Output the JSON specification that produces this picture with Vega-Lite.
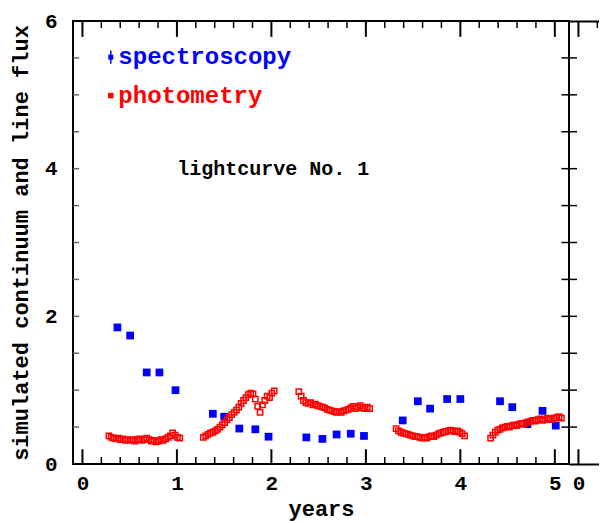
{
  "$schema": "https://vega.github.io/schema/vega-lite/v6.json",
  "padding": {"left": 8, "top": 9, "right": 0, "bottom": 4},
  "spacing": 0,
  "bounds": "flush",
  "config": {
    "view": {"stroke": "black", "strokeWidth": 2},
    "font": "Liberation Mono",
    "axis": {
      "domainColor": "black", "domainWidth": 2, "grid": false,
      "labelFont": "Liberation Mono", "labelFontSize": 21, "labelFontWeight": "bold", "labelColor": "black",
      "labelOverlap": false, "labelFlush": false,
      "titleFont": "Liberation Mono", "titleFontSize": 22, "titleFontWeight": "bold", "titleColor": "black"
    }
  },
  "datasets": {
    "xmaj": [{"v": 0}, {"v": 1}, {"v": 2}, {"v": 3}, {"v": 4}, {"v": 5}],
    "xmin": [{"v": 0.2}, {"v": 0.4}, {"v": 0.6}, {"v": 0.8}, {"v": 1.2}, {"v": 1.4}, {"v": 1.6}, {"v": 1.8},
      {"v": 2.2}, {"v": 2.4}, {"v": 2.6}, {"v": 2.8}, {"v": 3.2}, {"v": 3.4}, {"v": 3.6}, {"v": 3.8},
      {"v": 4.2}, {"v": 4.4}, {"v": 4.6}, {"v": 4.8}],
    "ytk": [{"v": 0.5}, {"v": 1}, {"v": 1.5}, {"v": 2}, {"v": 2.5}, {"v": 3}, {"v": 3.5}, {"v": 4}, {"v": 4.5}, {"v": 5}, {"v": 5.5}],
    "spec": [
      {"x": 0.37, "y": 1.85}, {"x": 0.505, "y": 1.74}, {"x": 0.68, "y": 1.24}, {"x": 0.815, "y": 1.24},
      {"x": 0.985, "y": 1.0}, {"x": 1.38, "y": 0.68}, {"x": 1.5, "y": 0.64}, {"x": 1.66, "y": 0.48},
      {"x": 1.83, "y": 0.47}, {"x": 1.97, "y": 0.37}, {"x": 2.37, "y": 0.36}, {"x": 2.54, "y": 0.34},
      {"x": 2.69, "y": 0.4}, {"x": 2.84, "y": 0.41}, {"x": 2.98, "y": 0.38}, {"x": 3.39, "y": 0.59},
      {"x": 3.55, "y": 0.85}, {"x": 3.68, "y": 0.75}, {"x": 3.86, "y": 0.88}, {"x": 4.0, "y": 0.88},
      {"x": 4.42, "y": 0.85}, {"x": 4.55, "y": 0.77}, {"x": 4.71, "y": 0.54}, {"x": 4.87, "y": 0.72},
      {"x": 5.01, "y": 0.52}
    ],
    "phot": [
      {"x": 0.28, "y": 0.38}, {"x": 0.305, "y": 0.36}, {"x": 0.33, "y": 0.35}, {"x": 0.355, "y": 0.34},
      {"x": 0.38, "y": 0.35}, {"x": 0.405, "y": 0.33}, {"x": 0.43, "y": 0.34}, {"x": 0.455, "y": 0.32},
      {"x": 0.48, "y": 0.33}, {"x": 0.505, "y": 0.32}, {"x": 0.53, "y": 0.33}, {"x": 0.555, "y": 0.31},
      {"x": 0.58, "y": 0.33}, {"x": 0.605, "y": 0.34}, {"x": 0.63, "y": 0.32}, {"x": 0.655, "y": 0.33},
      {"x": 0.68, "y": 0.35}, {"x": 0.705, "y": 0.33}, {"x": 0.73, "y": 0.31}, {"x": 0.755, "y": 0.32},
      {"x": 0.78, "y": 0.3}, {"x": 0.805, "y": 0.31}, {"x": 0.83, "y": 0.33}, {"x": 0.855, "y": 0.32},
      {"x": 0.88, "y": 0.34}, {"x": 0.905, "y": 0.36}, {"x": 0.93, "y": 0.38}, {"x": 0.955, "y": 0.42},
      {"x": 0.98, "y": 0.39}, {"x": 1.005, "y": 0.36}, {"x": 1.03, "y": 0.35},
      {"x": 1.28, "y": 0.36}, {"x": 1.305, "y": 0.38}, {"x": 1.33, "y": 0.4}, {"x": 1.355, "y": 0.42},
      {"x": 1.38, "y": 0.43}, {"x": 1.405, "y": 0.45}, {"x": 1.43, "y": 0.47}, {"x": 1.455, "y": 0.5},
      {"x": 1.48, "y": 0.53}, {"x": 1.505, "y": 0.56}, {"x": 1.53, "y": 0.6}, {"x": 1.555, "y": 0.63},
      {"x": 1.58, "y": 0.67}, {"x": 1.605, "y": 0.7}, {"x": 1.63, "y": 0.73}, {"x": 1.655, "y": 0.77},
      {"x": 1.68, "y": 0.82}, {"x": 1.705, "y": 0.86}, {"x": 1.73, "y": 0.9}, {"x": 1.755, "y": 0.94},
      {"x": 1.78, "y": 0.96}, {"x": 1.805, "y": 0.95}, {"x": 1.83, "y": 0.88}, {"x": 1.855, "y": 0.78},
      {"x": 1.88, "y": 0.7}, {"x": 1.905, "y": 0.8}, {"x": 1.93, "y": 0.86}, {"x": 1.955, "y": 0.92},
      {"x": 1.98, "y": 0.9}, {"x": 2.005, "y": 0.96}, {"x": 2.03, "y": 0.99},
      {"x": 2.29, "y": 0.98}, {"x": 2.315, "y": 0.92}, {"x": 2.34, "y": 0.86}, {"x": 2.365, "y": 0.83},
      {"x": 2.39, "y": 0.82}, {"x": 2.415, "y": 0.83}, {"x": 2.44, "y": 0.8}, {"x": 2.465, "y": 0.81},
      {"x": 2.49, "y": 0.79}, {"x": 2.515, "y": 0.78}, {"x": 2.54, "y": 0.77}, {"x": 2.565, "y": 0.76},
      {"x": 2.59, "y": 0.74}, {"x": 2.615, "y": 0.73}, {"x": 2.64, "y": 0.72}, {"x": 2.665, "y": 0.71},
      {"x": 2.69, "y": 0.7}, {"x": 2.715, "y": 0.71}, {"x": 2.74, "y": 0.7}, {"x": 2.765, "y": 0.72},
      {"x": 2.79, "y": 0.73}, {"x": 2.815, "y": 0.74}, {"x": 2.84, "y": 0.76}, {"x": 2.865, "y": 0.78},
      {"x": 2.89, "y": 0.75}, {"x": 2.915, "y": 0.77}, {"x": 2.94, "y": 0.79}, {"x": 2.965, "y": 0.76},
      {"x": 2.99, "y": 0.75}, {"x": 3.015, "y": 0.77}, {"x": 3.04, "y": 0.75},
      {"x": 3.32, "y": 0.48}, {"x": 3.345, "y": 0.45}, {"x": 3.37, "y": 0.43}, {"x": 3.395, "y": 0.42},
      {"x": 3.42, "y": 0.41}, {"x": 3.445, "y": 0.4}, {"x": 3.47, "y": 0.39}, {"x": 3.495, "y": 0.38},
      {"x": 3.52, "y": 0.37}, {"x": 3.545, "y": 0.37}, {"x": 3.57, "y": 0.36}, {"x": 3.595, "y": 0.35},
      {"x": 3.62, "y": 0.36}, {"x": 3.645, "y": 0.35}, {"x": 3.67, "y": 0.37}, {"x": 3.695, "y": 0.38},
      {"x": 3.72, "y": 0.37}, {"x": 3.745, "y": 0.39}, {"x": 3.77, "y": 0.41}, {"x": 3.795, "y": 0.42},
      {"x": 3.82, "y": 0.43}, {"x": 3.845, "y": 0.44}, {"x": 3.87, "y": 0.45}, {"x": 3.895, "y": 0.46},
      {"x": 3.92, "y": 0.45}, {"x": 3.945, "y": 0.44}, {"x": 3.97, "y": 0.45}, {"x": 3.995, "y": 0.43},
      {"x": 4.02, "y": 0.41}, {"x": 4.045, "y": 0.38},
      {"x": 4.32, "y": 0.35}, {"x": 4.345, "y": 0.39}, {"x": 4.37, "y": 0.43}, {"x": 4.395, "y": 0.46},
      {"x": 4.42, "y": 0.47}, {"x": 4.445, "y": 0.49}, {"x": 4.47, "y": 0.5}, {"x": 4.495, "y": 0.51},
      {"x": 4.52, "y": 0.5}, {"x": 4.545, "y": 0.52}, {"x": 4.57, "y": 0.53}, {"x": 4.595, "y": 0.52},
      {"x": 4.62, "y": 0.54}, {"x": 4.645, "y": 0.55}, {"x": 4.67, "y": 0.54}, {"x": 4.695, "y": 0.56},
      {"x": 4.72, "y": 0.57}, {"x": 4.745, "y": 0.58}, {"x": 4.77, "y": 0.59}, {"x": 4.795, "y": 0.58},
      {"x": 4.82, "y": 0.6}, {"x": 4.845, "y": 0.61}, {"x": 4.87, "y": 0.59}, {"x": 4.895, "y": 0.6},
      {"x": 4.92, "y": 0.62}, {"x": 4.945, "y": 0.61}, {"x": 4.97, "y": 0.6}, {"x": 4.995, "y": 0.62},
      {"x": 5.02, "y": 0.63}, {"x": 5.045, "y": 0.64}, {"x": 5.07, "y": 0.62}
    ]
  },
  "hconcat": [
    {
      "width": 496,
      "height": 443,
      "encoding": {
        "x": {"type": "quantitative", "scale": {"domain": [-0.1, 5.15], "nice": false, "zero": false}},
        "y": {"type": "quantitative", "scale": {"domain": [0, 6], "nice": false, "zero": false}}
      },
      "layer": [
        {
          "data": {"name": "spec"},
          "mark": {"type": "point", "shape": "square", "filled": true, "color": "#0000ff", "size": 60, "opacity": 1},
          "encoding": {
            "x": {"field": "x", "type": "quantitative",
              "axis": {"orient": "bottom", "title": "years", "titlePadding": 5, "values": [0,1,2,3,4,5], "format": "d",
                "ticks": false, "domain": false, "labelPadding": 8}},
            "y": {"field": "y", "type": "quantitative",
              "axis": {"orient": "left", "title": "simulated continuum and line flux", "titlePadding": 12,
                "values": [0,2,4,6], "format": "d", "ticks": false, "domain": false, "labelPadding": 16}}
          }
        },
        {
          "data": {"name": "phot"},
          "mark": {"type": "point", "shape": "square", "filled": false, "color": "#ff0000", "size": 28, "strokeWidth": 1.5, "opacity": 1},
          "encoding": {
            "x": {"field": "x", "type": "quantitative", "axis": null},
            "y": {"field": "y", "type": "quantitative", "axis": null}
          }
        },
        {
          "data": {"name": "xmaj"},
          "mark": {"type": "rule", "color": "black", "strokeWidth": 2},
          "encoding": {
            "x": {"field": "v", "type": "quantitative", "axis": null},
            "y": {"datum": 0, "type": "quantitative", "axis": null},
            "y2": {"datum": 0.2}
          }
        },
        {
          "data": {"name": "xmin"},
          "mark": {"type": "rule", "color": "black", "strokeWidth": 1.5},
          "encoding": {
            "x": {"field": "v", "type": "quantitative", "axis": null},
            "y": {"datum": 0, "type": "quantitative", "axis": null},
            "y2": {"datum": 0.095}
          }
        },
        {
          "data": {"name": "xmaj"},
          "mark": {"type": "rule", "color": "black", "strokeWidth": 2},
          "encoding": {
            "x": {"field": "v", "type": "quantitative", "axis": null},
            "y": {"datum": 6, "type": "quantitative", "axis": null},
            "y2": {"datum": 5.785}
          }
        },
        {
          "data": {"name": "xmin"},
          "mark": {"type": "rule", "color": "black", "strokeWidth": 1.5},
          "encoding": {
            "x": {"field": "v", "type": "quantitative", "axis": null},
            "y": {"datum": 6, "type": "quantitative", "axis": null},
            "y2": {"datum": 5.905}
          }
        },
        {
          "data": {"name": "ytk"},
          "mark": {"type": "rule", "color": "#666666", "strokeWidth": 1.5},
          "encoding": {
            "y": {"field": "v", "type": "quantitative", "axis": null},
            "x": {"datum": -0.1, "type": "quantitative", "axis": null},
            "x2": {"datum": -0.035}
          }
        },
        {
          "data": {"name": "ytk"},
          "mark": {"type": "rule", "color": "black", "strokeWidth": 1.5},
          "encoding": {
            "y": {"field": "v", "type": "quantitative", "axis": null},
            "x": {"datum": 5.15, "type": "quantitative", "axis": null},
            "x2": {"datum": 5.07}
          }
        },
        {
          "data": {"values": [{}]},
          "mark": {"type": "rule", "color": "#0000ff", "strokeWidth": 1.5},
          "encoding": {
            "x": {"datum": 0.3, "type": "quantitative", "axis": null},
            "y": {"datum": 5.42, "type": "quantitative", "axis": null},
            "y2": {"datum": 5.6}
          }
        },
        {
          "data": {"values": [{}]},
          "mark": {"type": "point", "shape": "square", "filled": true, "color": "#0000ff", "size": 25, "opacity": 1},
          "encoding": {
            "x": {"datum": 0.3, "type": "quantitative", "axis": null},
            "y": {"datum": 5.51, "type": "quantitative", "axis": null}
          }
        },
        {
          "data": {"values": [{}]},
          "mark": {"type": "point", "shape": "square", "filled": true, "color": "#ff0000", "size": 30, "opacity": 1},
          "encoding": {
            "x": {"datum": 0.3, "type": "quantitative", "axis": null},
            "y": {"datum": 4.99, "type": "quantitative", "axis": null}
          }
        },
        {
          "data": {"values": [{}]},
          "mark": {"type": "text", "text": "spectroscopy", "color": "#0000ff", "font": "Liberation Mono", "fontSize": 24, "fontWeight": "bold", "align": "left", "baseline": "middle"},
          "encoding": {
            "x": {"datum": 0.38, "type": "quantitative", "axis": null},
            "y": {"datum": 5.51, "type": "quantitative", "axis": null}
          }
        },
        {
          "data": {"values": [{}]},
          "mark": {"type": "text", "text": "photometry", "color": "#ff0000", "font": "Liberation Mono", "fontSize": 24, "fontWeight": "bold", "align": "left", "baseline": "middle"},
          "encoding": {
            "x": {"datum": 0.38, "type": "quantitative", "axis": null},
            "y": {"datum": 4.99, "type": "quantitative", "axis": null}
          }
        },
        {
          "data": {"values": [{}]},
          "mark": {"type": "text", "text": "lightcurve No. 1", "color": "black", "font": "Liberation Mono", "fontSize": 20, "fontWeight": "bold", "align": "center", "baseline": "middle"},
          "encoding": {
            "x": {"datum": 2.02, "type": "quantitative", "axis": null},
            "y": {"datum": 4.0, "type": "quantitative", "axis": null}
          }
        }
      ],
      "resolve": {"axis": {"x": "independent", "y": "independent"}}
    },
    {
      "width": 30,
      "height": 443,
      "view": {"stroke": null},
      "encoding": {
        "x": {"type": "quantitative", "scale": {"domain": [-0.1, 0.2175], "nice": false, "zero": false}},
        "y": {"type": "quantitative", "scale": {"domain": [0, 6], "nice": false, "zero": false}}
      },
      "layer": [
        {
          "data": {"name": "xmaj"},
          "transform": [{"filter": "datum.v < 0.1"}],
          "mark": {"type": "rule", "color": "black", "strokeWidth": 2},
          "encoding": {
            "x": {"field": "v", "type": "quantitative",
              "axis": {"orient": "bottom", "title": null, "values": [0], "format": "d", "ticks": false, "domain": true, "labelPadding": 8}},
            "y": {"datum": 0, "type": "quantitative", "axis": null},
            "y2": {"datum": 0.2}
          }
        },
        {
          "data": {"name": "xmaj"},
          "transform": [{"filter": "datum.v < 0.1"}],
          "mark": {"type": "rule", "color": "black", "strokeWidth": 2},
          "encoding": {
            "x": {"field": "v", "type": "quantitative",
              "axis": {"orient": "top", "title": null, "labels": false, "ticks": false, "domain": true}},
            "y": {"datum": 6, "type": "quantitative", "axis": null},
            "y2": {"datum": 5.785}
          }
        },
        {
          "data": {"name": "xmin"},
          "transform": [{"filter": "datum.v < 0.3"}],
          "mark": {"type": "rule", "color": "black", "strokeWidth": 1.5},
          "encoding": {
            "x": {"field": "v", "type": "quantitative", "axis": null},
            "y": {"datum": 6, "type": "quantitative", "axis": null},
            "y2": {"datum": 5.905}
          }
        },
        {
          "data": {"name": "ytk"},
          "mark": {"type": "rule", "color": "black", "strokeWidth": 1.5},
          "encoding": {
            "y": {"field": "v", "type": "quantitative", "axis": null},
            "x": {"datum": -0.1, "type": "quantitative", "axis": null},
            "x2": {"datum": -0.015}
          }
        }
      ],
      "resolve": {"axis": {"x": "independent"}}
    }
  ]
}
